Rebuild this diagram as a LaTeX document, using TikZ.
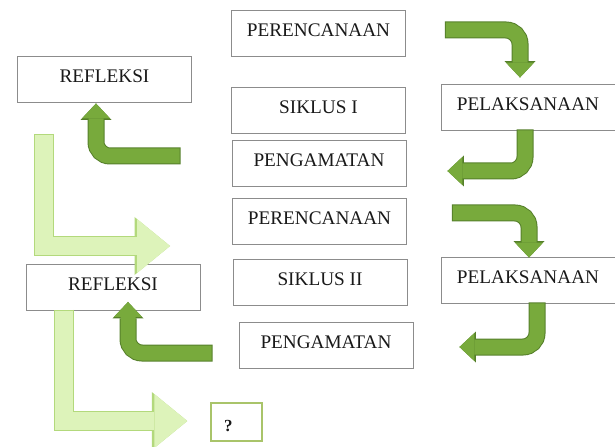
\documentclass[tikz,border=0pt]{standalone}
\usepackage{fontspec}
\setmainfont{Liberation Serif}
\usetikzlibrary{arrows.meta}
\definecolor{boxline}{HTML}{8C8C8C}
\definecolor{leaf}{HTML}{78AA3C}
\definecolor{leafdark}{HTML}{557F2A}
\definecolor{lime}{HTML}{DDF3BA}
\definecolor{limedark}{HTML}{B3D97C}
\definecolor{qline}{HTML}{A9C46A}

\begin{document}
\begin{tikzpicture}[x=1bp, y=-1bp,
    box/.style={draw=boxline, line width=0.9bp, fill=white, minimum width=174bp, minimum height=46bp, inner sep=0pt, text height=12.6bp, text depth=6bp, text=black!90, font=\fontsize{19.3}{22}\selectfont},
    turn/.style={draw=leaf, line width=15bp, rounded corners=14bp, -{Triangle[width=28bp, length=15bp, line width=0pt]},
        preaction={draw=leafdark, line width=17bp, shorten <=-1bp, -{Triangle[width=31bp, length=16.5bp, line width=0pt]}}},
    jump/.style={draw=lime, line width=18bp, -{Triangle[width=54bp, length=33bp, line width=0pt]},
        preaction={draw=limedark, line width=20bp, shorten <=-1bp, -{Triangle[width=58bp, length=35.5bp, line width=0pt]}}}]

        \useasboundingbox (0,0) rectangle (615,447);

        % siklus I
        \node[box] (per1) at (318.5,33) {PERENCANAAN};
        \node[box] (sik1) at (318.5,110) {SIKLUS I};
        \node[box] (pen1) at (319,163.5) {PENGAMATAN};
        \node[box] (pel1) at (528,107) {PELAKSANAAN};
        \node[box] (ref1) at (104.5,79) {REFLEKSI};

        % siklus II
        \node[box] (per2) at (319.5,221) {PERENCANAAN};
        \node[box] (sik2) at (320,282.5) {SIKLUS II};
        \node[box] (pen2) at (326,345.5) {PENGAMATAN};
        \node[box] (pel2) at (528,280) {PELAKSANAAN};
        \node[box] (ref2) at (113,287.5) {REFLEKSI};

        \node[box, draw=qline, line width=1.5bp, minimum width=51bp, minimum height=38bp, inner xsep=13bp, text width=25bp, align=left, text height=19bp, text depth=0pt, font=\fontsize{17}{20}\selectfont\bfseries] (q) at (236.5,422) {?};

        \coordinate (l1a) at (44,135);
        \coordinate (l1b) at (170,246);

        \draw[turn] ([xshift=40bp,yshift=3bp]per1.east) -| ([xshift=-8bp,yshift=6bp]pel1.north);
        \draw[turn] ([xshift=-3bp]pel1.south) |- ([xshift=41bp,yshift=-7.5bp]pen1.east);
        \draw[turn] ([xshift=-52bp,yshift=7.5bp]pen1.west) -| ([xshift=-8.5bp,yshift=-1bp]ref1.south);

        \draw[turn] ([xshift=46bp,yshift=8bp]per2.east) -| ([xshift=1bp,yshift=-1bp]pel2.north);
        \draw[turn] ([xshift=9bp]pel2.south) |- ([xshift=46bp,yshift=-1.5bp]pen2.east);
        \draw[turn] ([xshift=-27bp,yshift=-7.5bp]pen2.west) -| ([xshift=15bp,yshift=9bp]ref2.south);

        \draw[jump] (l1a) |- (l1b);
        \draw[jump] ([xshift=-49bp]ref2.south) |- ([xshift=-23bp,yshift=1bp]q.west);
\end{tikzpicture}
\end{document}
